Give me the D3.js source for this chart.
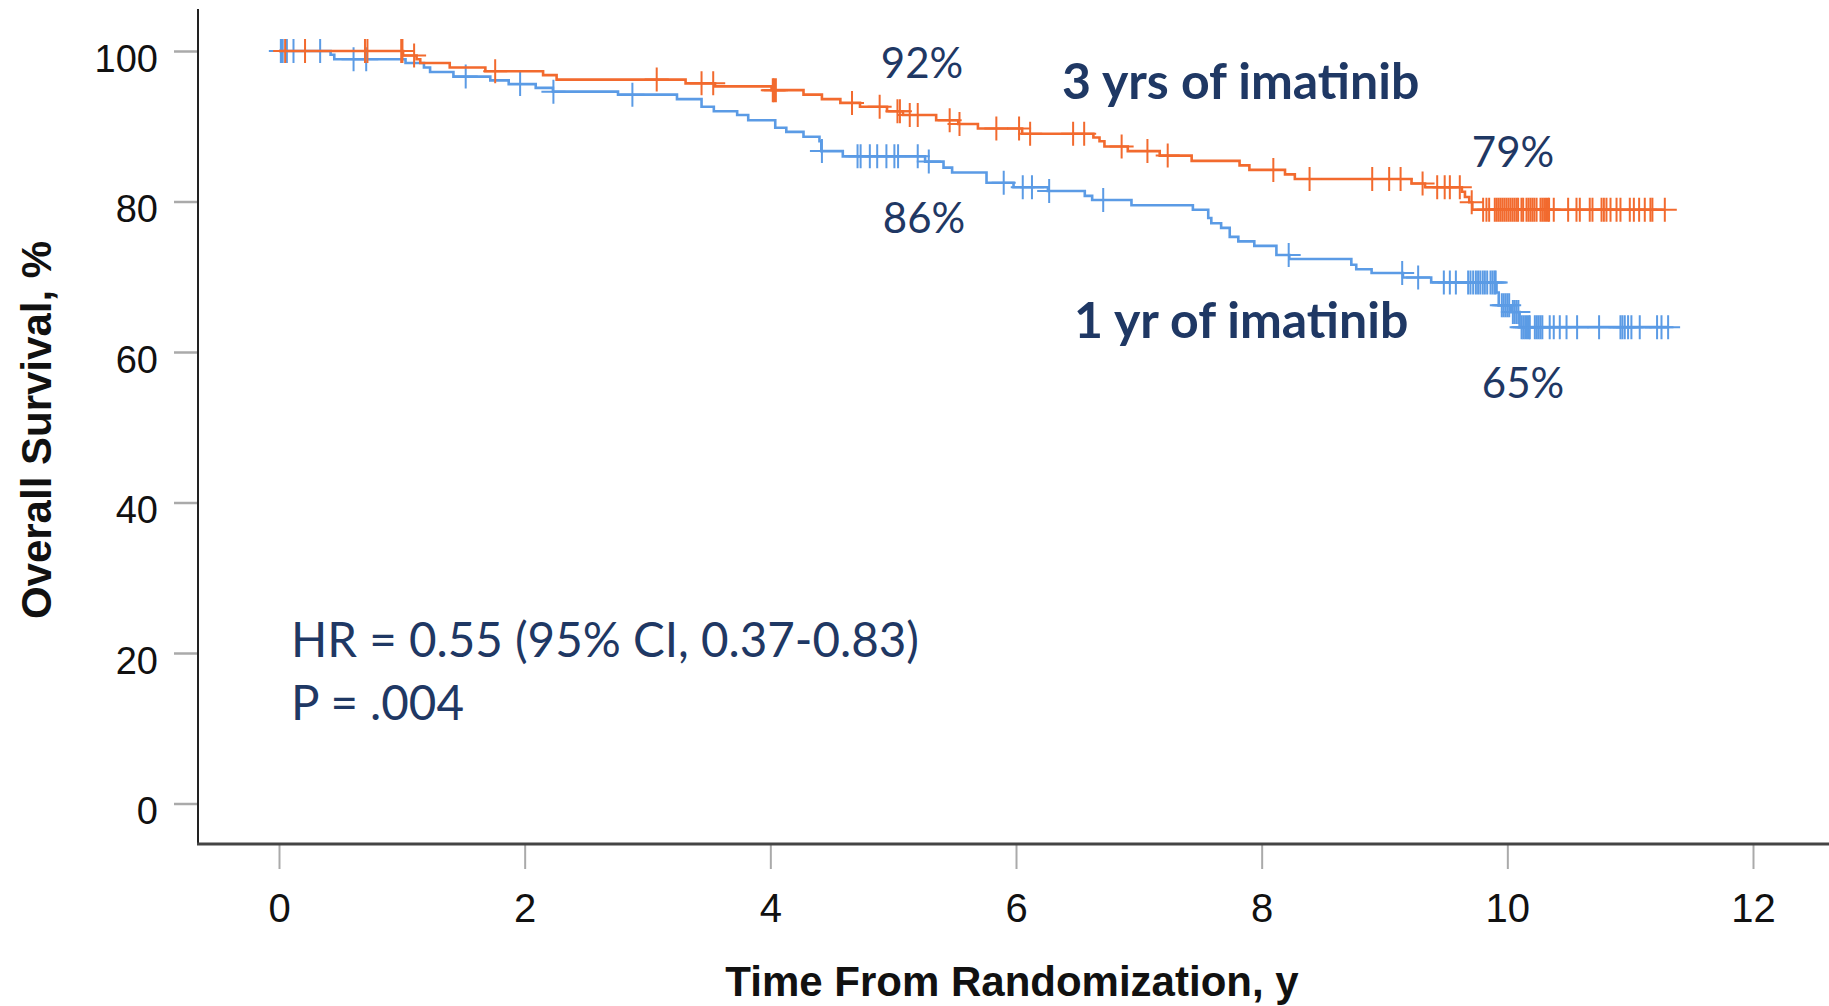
<!DOCTYPE html>
<html>
<head>
<meta charset="utf-8">
<script src="https://cdn.jsdelivr.net/npm/d3@7"></script>
<style>
  body { margin: 0; background: #fff; }
  svg { display: block; }
</style>
</head>
<body>
<svg id="chart" width="1829" height="1006"></svg>
<script>
// KM steps: [years, overall survival %]
const threeYrSteps = [
  [0, 100], [1.01, 99.4], [1.12, 98.9], [1.15, 98.4], [1.39, 97.8], [1.68, 97.3],
  [2.15, 96.8], [2.26, 96.2], [3.31, 95.7], [3.55, 95.3], [4.01, 94.8], [4.27, 94.2],
  [4.42, 93.6], [4.57, 93.1], [4.73, 92.6], [4.95, 92.0], [5.08, 91.5], [5.35, 90.8],
  [5.53, 90.3], [5.69, 89.7], [6.05, 89.0], [6.63, 88.5], [6.68, 88.0], [6.72, 87.3],
  [6.91, 86.7], [7.17, 86.1], [7.43, 85.4], [7.82, 84.8], [7.90, 84.2], [8.19, 83.6],
  [8.27, 83.0], [9.22, 82.4], [9.33, 81.9], [9.63, 81.3], [9.655, 80.6], [9.69, 79.9],
  [9.715, 78.9]
];
const threeYrCensored = [
  0.05, 0.212, 0.70, 0.72, 0.995, 1.005, 1.10, 1.76, 3.075, 3.44, 3.535, 4.02, 4.03,
  4.045, 4.665, 4.89, 5.035, 5.055, 5.135, 5.20, 5.46, 5.54, 5.84, 6.025, 6.115, 6.465,
  6.555, 6.86, 7.07, 7.235, 8.095, 8.39, 8.90, 9.038, 9.131, 9.31, 9.429, 9.49, 9.532,
  9.613, 9.71, 9.803, 9.83, 9.852, 9.898, 9.914, 9.93, 9.946, 9.962, 9.978, 9.994,
  10.01, 10.026, 10.042, 10.058, 10.074, 10.088, 10.115, 10.129, 10.156, 10.172,
  10.188, 10.204, 10.22, 10.238, 10.27, 10.285, 10.30, 10.315, 10.33, 10.34, 10.378,
  10.495, 10.563, 10.59, 10.671, 10.693, 10.767, 10.786, 10.807, 10.84, 10.889,
  10.921, 10.997, 11.03, 11.073, 11.119, 11.165, 11.181, 11.282
];
const oneYrSteps = [
  [0, 100], [0.42, 99.5], [0.45, 98.9], [1.03, 98.4], [1.18, 97.8], [1.23, 97.2],
  [1.42, 96.6], [1.72, 96.1], [1.87, 95.6], [2.09, 95.1], [2.23, 94.6], [2.76, 94.2],
  [3.24, 93.6], [3.44, 92.6], [3.54, 92.0], [3.73, 91.5], [3.82, 90.8], [4.04, 89.8],
  [4.13, 89.25], [4.27, 88.6], [4.40, 88.0], [4.415, 86.7], [4.59, 86.0], [5.26, 85.3],
  [5.41, 84.5], [5.48, 83.85], [5.76, 82.5], [5.98, 81.9], [6.26, 81.4], [6.56, 80.75],
  [6.62, 80.2], [6.94, 79.5], [7.44, 78.9], [7.565, 77.8], [7.59, 77.1], [7.67, 76.5],
  [7.74, 75.3], [7.81, 74.7], [7.94, 74.1], [8.12, 72.9], [8.225, 72.35], [8.73, 71.6],
  [8.77, 71.0], [8.895, 70.5], [9.15, 69.9], [9.38, 69.25], [9.912, 67.9], [9.93, 66.2],
  [10.03, 65.3], [10.10, 63.3]
];
const oneYrCensored = [
  0.015, 0.02, 0.025, 0.03, 0.064, 0.118, 0.335, 0.607, 0.71, 1.52, 1.963, 2.234, 2.877,
  4.42, 4.71, 4.735, 4.81, 4.87, 4.945, 5.01, 5.04, 5.20, 5.29, 5.90, 6.055, 6.13, 6.27,
  6.71, 8.22, 9.144, 9.274, 9.483, 9.532, 9.581, 9.681, 9.70, 9.722, 9.744, 9.762, 9.78,
  9.80, 9.817, 9.836, 9.863, 9.879, 9.895, 9.905, 9.955, 9.97, 9.985, 10.0, 10.015,
  10.045, 10.06, 10.075, 10.09, 10.116, 10.13, 10.145, 10.16, 10.175, 10.183, 10.224,
  10.24, 10.255, 10.27, 10.285, 10.345, 10.378, 10.427, 10.482, 10.568, 10.747, 10.921,
  10.937, 10.956, 10.983, 11.01, 11.078, 11.219, 11.255, 11.309
];
const xTicks = [0, 2, 4, 6, 8, 10, 12];
const yTicks = [0, 20, 40, 60, 80, 100];

const armColor = { threeYr: "#f26a2e", oneYr: "#5b9be5" };
const navy = "#1f3864";
const axisFont = "'Liberation Sans', Arial, sans-serif";
const noteFont = "Lato, 'Open Sans', sans-serif";

const svg = d3.select("#chart");

const x = d3.scaleLinear().domain([0, 12]).range([279, 1753]);
const y = d3.scaleLinear().domain([0, 100]).range([803.5, 51]);

// axes
const yAxisG = svg.append("g")
  .attr("transform", "translate(198,0)")
  .call(d3.axisLeft(y).tickValues(yTicks).tickSize(24).tickPadding(16));
yAxisG.select(".domain").remove();
yAxisG.selectAll(".tick line").attr("stroke", "#aaa").attr("stroke-width", 2.5);
yAxisG.selectAll(".tick text")
  .attr("font-family", axisFont).attr("font-size", 38)
  .attr("fill", "#111").attr("dy", 20);

const xAxisG = svg.append("g")
  .attr("transform", "translate(0,844)")
  .call(d3.axisBottom(x).tickValues(xTicks).tickSize(25));
xAxisG.select(".domain").remove();
xAxisG.selectAll(".tick line").attr("stroke", "#aaa").attr("stroke-width", 2);
xAxisG.selectAll(".tick text")
  .attr("font-family", axisFont).attr("font-size", 40)
  .attr("fill", "#111").attr("y", 78).attr("dy", 0);

svg.append("line")
  .attr("x1", 198).attr("x2", 198).attr("y1", 9).attr("y2", 845)
  .attr("stroke", "#222").attr("stroke-width", 2);
svg.append("line")
  .attr("x1", 197).attr("x2", 1829).attr("y1", 844).attr("y2", 844)
  .attr("stroke", "#444").attr("stroke-width", 3);

svg.append("text")
  .attr("transform", "translate(51,430) rotate(-90)")
  .attr("text-anchor", "middle")
  .attr("font-family", axisFont).attr("font-weight", "bold").attr("font-size", 42)
  .attr("fill", "#111")
  .text("Overall Survival, %");

svg.append("text")
  .attr("x", 1012).attr("y", 996)
  .attr("text-anchor", "middle")
  .attr("font-family", axisFont).attr("font-weight", "bold").attr("font-size", 42)
  .attr("fill", "#111")
  .text("Time From Randomization, y");

// curves
const survAt = (steps, t) => {
  let s = steps[0][1];
  for (const [ti, si] of steps) if (ti <= t) s = si;
  return s;
};

const stepLine = d3.line()
  .x((d) => x(d[0]))
  .y((d) => y(d[1]))
  .curve(d3.curveStepAfter);

const drawArm = (steps, censored, color) => {
  const last = d3.max(censored);
  const pts = steps.concat([[last, survAt(steps, last)]]);
  svg.append("path")
    .datum(pts)
    .attr("d", stepLine)
    .attr("fill", "none")
    .attr("stroke", color)
    .attr("stroke-width", 2.6);

  svg.append("g")
    .selectAll("path")
    .data(censored)
    .join("path")
    .attr("d", (t) => {
      const cx = x(t), cy = y(survAt(steps, t));
      return `M${cx - 12},${cy}H${cx + 12}M${cx},${cy - 12}V${cy + 12}`;
    })
    .attr("stroke", color)
    .attr("stroke-width", 2)
    .attr("fill", "none");
};

drawArm(oneYrSteps, oneYrCensored, armColor.oneYr);
drawArm(threeYrSteps, threeYrCensored, armColor.threeYr);

// annotations
const note = (txt, px, py, size, weight, anchor) =>
  svg.append("text")
    .attr("x", px).attr("y", py)
    .attr("text-anchor", anchor || "middle")
    .attr("font-family", noteFont)
    .attr("font-size", size)
    .attr("font-weight", weight || "normal")
    .attr("fill", navy)
    .text(txt);

note("92%", 922, 78, 42);
note("86%", 924, 233, 42);
note("79%", 1513, 167, 42);
note("65%", 1523, 398, 42);
note("3 yrs of imatinib", 1062, 99, 50, "bold", "start");
note("1 yr of imatinib", 1074, 338, 50, "bold", "start");
note("HR = 0.55 (95% CI, 0.37-0.83)", 291, 657, 47.5, "normal", "start");
note("P = .004", 291, 720, 47.5, "normal", "start");
</script>
</body>
</html>
